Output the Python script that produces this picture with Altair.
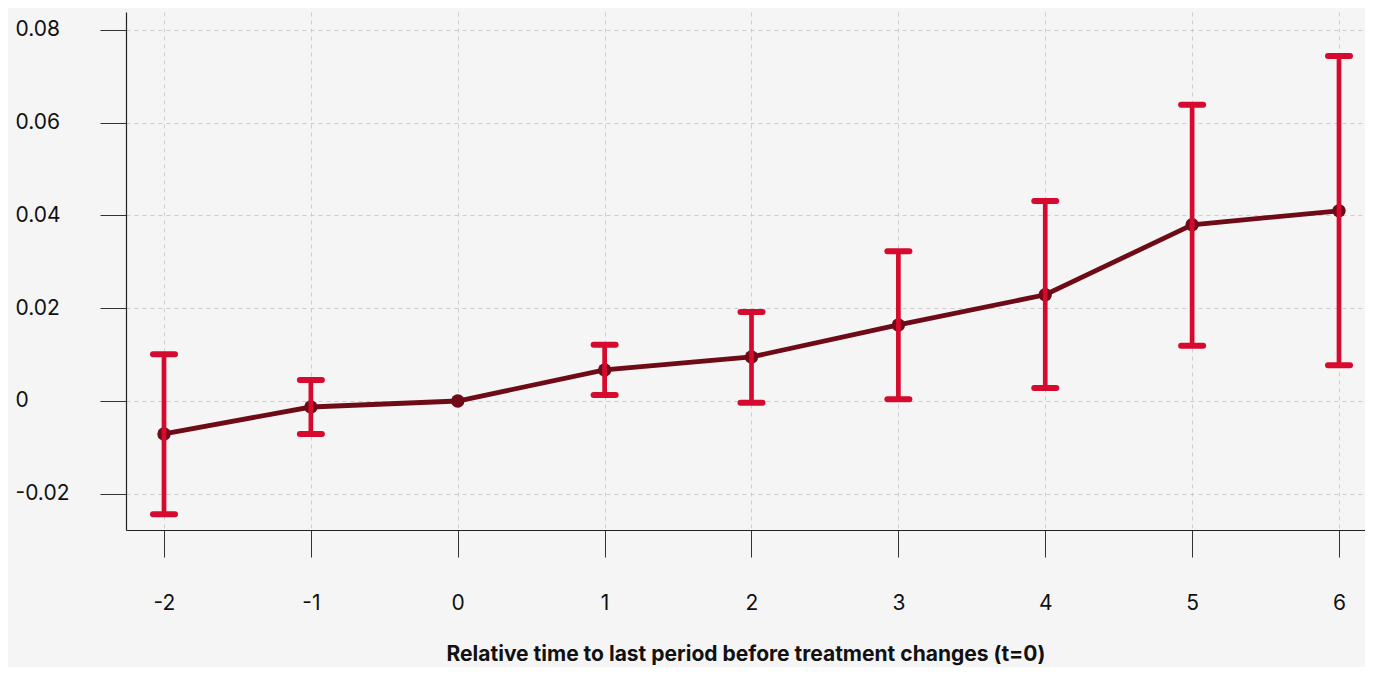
import altair as alt
import pandas as pd

periods = [-2, -1, 0, 1, 2, 3, 4, 5, 6]
estimates = [-0.0071, -0.0013, 0.0, 0.0067, 0.0095, 0.0164, 0.0229, 0.0380, 0.0410]
ci_lower = [-0.0244, -0.0071, 0.0, 0.0013, -0.0004, 0.0004, 0.0028, 0.0119, 0.0077]
ci_upper = [0.0101, 0.0045, 0.0, 0.0121, 0.0192, 0.0323, 0.0431, 0.0639, 0.0744]

x_ticks = [-2, -1, 0, 1, 2, 3, 4, 5, 6]
y_ticks = [-0.02, 0.0, 0.02, 0.04, 0.06, 0.08]

df = pd.DataFrame({"t": periods, "est": estimates, "lo": ci_lower, "hi": ci_upper})
err = df[df["hi"] != df["lo"]]

FONT = "Inter"
LINE_COLOR = "#6e0b17"
ERR_COLOR = "#d60a2e"

x_scale = alt.Scale(domain=[-2.2587, 6.177], nice=False, zero=False)
y_scale = alt.Scale(domain=[-0.02782, 0.08388], nice=False, zero=False)

x_axis = alt.Axis(
    values=x_ticks,
    labelExpr="datum.value < 0 ? '-' + toString(-datum.value) : toString(datum.value)",
    title="Relative time to last period before treatment changes (t=0)",
    titleFont=FONT, titleFontSize=21, titleFontWeight="bold", titleColor="#111111",
    titlePadding=30,
    labelFont=FONT, labelFontSize=21, labelColor="#111111", labelPadding=35,
    tickSize=27, tickColor="#333333", tickWidth=1,
    domainColor="#222222", domainWidth=1.2,
    grid=True, gridColor="#cccccc", gridDash=[4, 4], gridWidth=1,
)
y_axis = alt.Axis(
    values=y_ticks,
    labelExpr="datum.value == 0 ? '0' : (datum.value < 0 ? '-' + format(-datum.value, '.2f') : format(datum.value, '.2f'))",
    title=None,
    labelFont=FONT, labelFontSize=21, labelColor="#111111",
    labelAlign="left", labelPadding=85, labelBaseline="middle",
    tickSize=26, tickColor="#333333", tickWidth=1,
    domainColor="#222222", domainWidth=1.2,
    grid=True, gridColor="#cccccc", gridDash=[4, 4], gridWidth=1,
)

base = alt.Chart(df)

line = base.mark_line(color=LINE_COLOR, strokeWidth=4.8).encode(
    x=alt.X("t:Q", scale=x_scale, axis=x_axis),
    y=alt.Y("est:Q", scale=y_scale, axis=y_axis),
)
points = base.mark_circle(color=LINE_COLOR, size=180, opacity=1).encode(
    x=alt.X("t:Q", scale=x_scale),
    y=alt.Y("est:Q", scale=y_scale),
)
bars = alt.Chart(err).mark_rule(color=ERR_COLOR, strokeWidth=4.7).encode(
    x=alt.X("t:Q", scale=x_scale),
    y=alt.Y("lo:Q", scale=y_scale),
    y2="hi:Q",
)
cap_lo = alt.Chart(err).mark_rule(color=ERR_COLOR, strokeWidth=6, strokeCap="round",
                                  xOffset=-11, x2Offset=11).encode(
    x=alt.X("t:Q", scale=x_scale),
    x2="t:Q",
    y=alt.Y("lo:Q", scale=y_scale),
)
cap_hi = alt.Chart(err).mark_rule(color=ERR_COLOR, strokeWidth=6, strokeCap="round",
                                  xOffset=-11, x2Offset=11).encode(
    x=alt.X("t:Q", scale=x_scale),
    x2="t:Q",
    y=alt.Y("hi:Q", scale=y_scale),
)

chart = alt.layer(line, points, bars, cap_lo, cap_hi).properties(
    width=1239, height=518,
    autosize=alt.AutoSizeParams(type="none"),
    padding={"left": 118, "top": 4, "right": 0, "bottom": 137},
    background="#f5f5f5",
).configure_view(stroke=None)

chart.save("out.html", embed_options={"renderer": "svg", "actions": False})
